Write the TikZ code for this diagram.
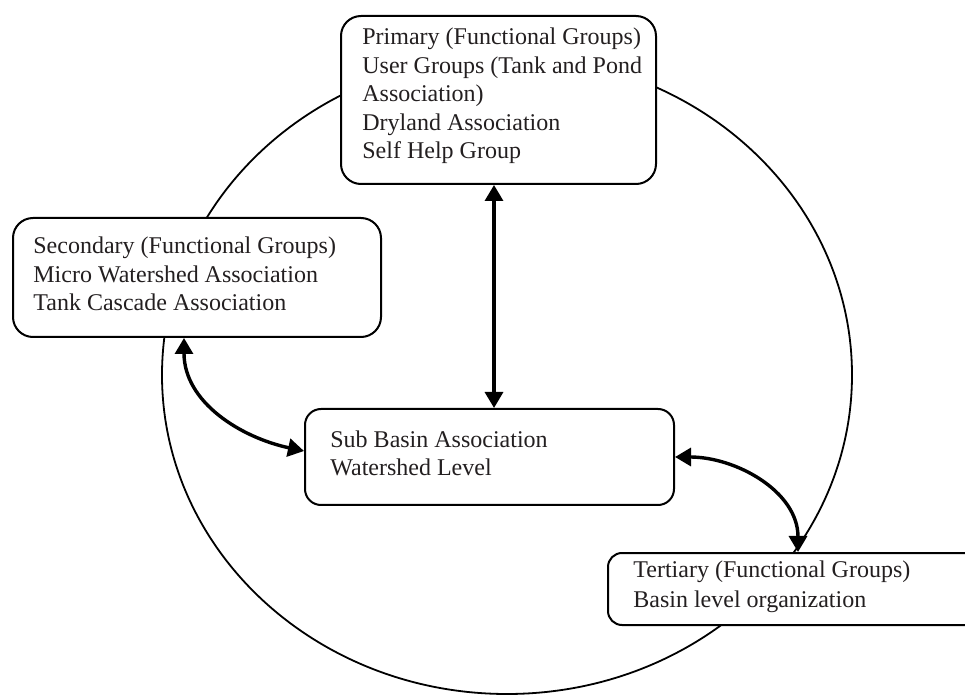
\documentclass[tikz,border=0pt]{standalone}
\usepackage{fontspec}
\setmainfont{Liberation Serif}
\usetikzlibrary{arrows.meta,calc}
\definecolor{txt}{RGB}{35,31,32}
\begin{document}
\begin{tikzpicture}[x=0.5pt,y=-0.5pt,
  box/.style={draw=black, fill=white, line width=1pt, rounded corners=#1, inner sep=0pt, anchor=north west},
  box/.default=10pt,
  lbl/.style={anchor=base west, inner sep=0pt, text=txt, font=\fontsize{12}{14}\selectfont},
  link/.style={line width=1.7pt, {Triangle[length=8pt,width=9pt]}-{Triangle[length=8pt,width=9pt]}},
  ring/.style={draw=black, line width=0.9pt}]
\useasboundingbox (0,0) rectangle (965,695);
\clip (0,0) rectangle (965,695);
\draw[ring] (507,375) ellipse [x radius=172.5pt, y radius=159.5pt];
% boxes
\node[box=10pt, minimum width=157.5pt, minimum height=84pt] (prim) at (340,15) {};
\node[box=10pt, minimum width=184pt, minimum height=59.5pt] (sec) at (12,217) {};
\node[box=8pt, minimum width=184.5pt, minimum height=48pt] (sub) at (304,408) {};
\node[box=7pt, minimum width=200pt, minimum height=36pt] (ter) at (607,552) {};
% texts
\node[lbl] (p1) at (362,45) {Primary (Functional Groups)};
\node[lbl] (p2) at (362,73.5) {User Groups (Tank and Pond};
\node[lbl] (p3) at (362,102) {Association)};
\node[lbl] (p4) at (362,130.5) {Dryland Association};
\node[lbl] (p5) at (362,159) {Self Help Group};
\node[lbl] (s1) at (33,254) {Secondary (Functional Groups)};
\node[lbl] (s2) at (33,283) {Micro Watershed Association};
\node[lbl] (s3) at (33,311) {Tank Cascade Association};
\node[lbl] (b1) at (330,448) {Sub Basin Association};
\node[lbl] (b2) at (330,476) {Watershed Level};
\node[lbl] (t1) at (633,577) {Tertiary (Functional Groups)};
\node[lbl] (t2) at (633,607) {Basin level organization};
% connectors
\draw[link] ($(prim.south west)+(154,0)$) -- ($(sub.north west)+(190,0)$);
\draw[link] ($(sec.south west)+(172,0)$) to[out=-90, in=168] ($(sub.west)+(0,-6)$);
\draw[link] (sub.east) to[out=0, in=90] ($(ter.north west)+(191,0)$);
\end{tikzpicture}
\end{document}
